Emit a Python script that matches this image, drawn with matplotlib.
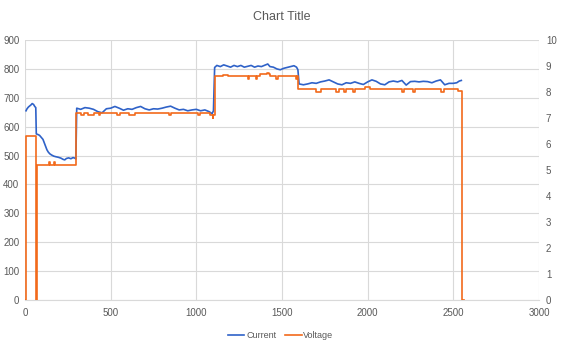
import matplotlib.pyplot as plt
from matplotlib.lines import Line2D

# current (left axis)
cur_x = [6, 12, 20, 28, 36, 42, 50, 57, 63,
         66, 75, 85, 95, 105, 112, 120, 128, 136, 145, 155, 168, 180, 195, 210,
         222, 232, 242, 255, 268, 280, 292, 297,
         302, 325, 350, 375, 400, 425, 450, 475, 500, 525, 550, 575, 600, 625,
         650, 675, 700, 725, 750, 775, 800, 825, 850, 875, 900, 925, 950, 975,
         1000, 1025, 1050, 1075, 1092, 1100,
         1107, 1120, 1140, 1160, 1180, 1200, 1220, 1240, 1260, 1280, 1300, 1320,
         1340, 1360, 1380, 1400, 1417, 1430, 1450, 1470, 1490, 1510, 1530, 1550,
         1570, 1585, 1593,
         1600, 1625, 1650, 1675, 1700, 1725, 1750, 1775, 1800, 1825, 1850, 1875,
         1900, 1925, 1950, 1975, 2000, 2025, 2050, 2075, 2100, 2125, 2150, 2175,
         2200, 2225, 2250, 2275, 2300, 2325, 2350, 2375, 2400, 2425, 2450, 2475,
         2500, 2520, 2535, 2547]
cur_y = [655, 662, 668, 672, 676, 680, 677, 670, 666,
         575, 573, 570, 563, 556, 545, 532, 520, 512, 506, 502, 498, 496, 494, 491,
         487, 485, 490, 492, 489, 493, 491, 488,
         664, 660, 666, 664, 660, 652, 648, 662, 664, 670, 664, 657, 662, 660,
         666, 670, 662, 658, 662, 661, 664, 668, 671, 664, 658, 660, 655, 658,
         660, 655, 658, 652, 645, 655,
         805, 812, 808, 814, 810, 806, 812, 808, 812, 806, 809, 812,
         806, 810, 808, 813, 817, 808, 806, 800, 797, 802, 805, 808,
         811, 806, 797,
         748, 745, 748, 752, 750, 755, 758, 762, 755, 748, 745, 752,
         750, 755, 750, 746, 755, 762, 757, 748, 745, 755, 758, 755,
         760, 744, 756, 757, 755, 757, 756, 752, 758, 762, 745, 750,
         750, 752, 758, 760]

# voltage (right axis), stepped values
volt_x = [0, 6, 63, 69, 140, 146, 172, 178,
          300, 325, 345, 365, 405, 430, 440, 535, 555, 605, 640, 843, 850,
          1010, 1020, 1080, 1095, 1100,
          1107, 1156, 1186, 1300, 1305, 1350, 1355, 1370, 1415, 1422, 1428,
          1465, 1477, 1580, 1585,
          1594, 1700, 1725, 1815, 1830, 1860, 1875, 1915, 1925, 1985, 2015,
          2200, 2215, 2265, 2275, 2430, 2445, 2530, 2550, 2560]
volt_y = [0, 6.3, 0, 5.2, 5.3, 5.2, 5.3, 5.2,
          7.2, 7.1, 7.2, 7.1, 7.2, 7.1, 7.2, 7.1, 7.2, 7.1, 7.2, 7.1, 7.2,
          7.1, 7.2, 7.1, 7.0, 7.1,
          8.6, 8.65, 8.6, 8.5, 8.6, 8.5, 8.6, 8.7, 8.75, 8.7, 8.6,
          8.5, 8.6, 8.5, 8.6,
          8.1, 8.0, 8.1, 8.0, 8.1, 8.0, 8.1, 8.0, 8.1, 8.2, 8.1,
          8.0, 8.1, 8.0, 8.1, 8.0, 8.1, 8.05, 0, 0]

BLUE = '#2F62C8'
ORANGE = '#F26A1B'
GREY = '#595959'
GRID = '#D9D9D9'

plt.rcParams['font.family'] = ['Liberation Sans Narrow', 'Liberation Sans', 'DejaVu Sans']

fig = plt.figure(figsize=(5.64, 3.51), dpi=100)
ax = fig.add_axes([0.0443, 0.1453, 0.9113, 0.7407])
ax2 = ax.twinx()

ax.plot(cur_x, cur_y, color=BLUE, lw=1.2, zorder=3)
ax2.step(volt_x, volt_y, where='post', color=ORANGE, lw=1.2, zorder=3)

ax.set_xlim(0, 3000)
ax.set_ylim(0, 900)
ax2.set_ylim(0, 10)
ax.set_xticks(range(0, 3001, 500))
ax.set_yticks(range(0, 901, 100))
ax2.set_yticks(range(0, 11))

ax.grid(True, color=GRID, lw=0.8)
ax.set_axisbelow(True)
for a in (ax, ax2):
    for s in a.spines.values():
        s.set_visible(False)
    a.tick_params(length=0, labelsize=7, colors=GREY)
ax.spines['bottom'].set_visible(True)
ax.spines['bottom'].set_color(GRID)
ax.tick_params(axis='x', pad=6)
ax.tick_params(axis='y', pad=4)
ax2.tick_params(axis='y', pad=5)

fig.text(0.5, 0.952, 'Chart Title', ha='center', va='center', fontsize=9, color=GREY)

handles = [Line2D([], [], color=BLUE, lw=1.2), Line2D([], [], color=ORANGE, lw=1.2)]
fig.legend(handles, ['Current', 'Voltage'], loc='center', bbox_to_anchor=(0.498, 0.043),
           ncol=2, frameon=False, fontsize=6.5, labelcolor=GREY,
           handlelength=1.8, handletextpad=0.2, columnspacing=1.0)

fig.savefig('out.png', dpi=100)
